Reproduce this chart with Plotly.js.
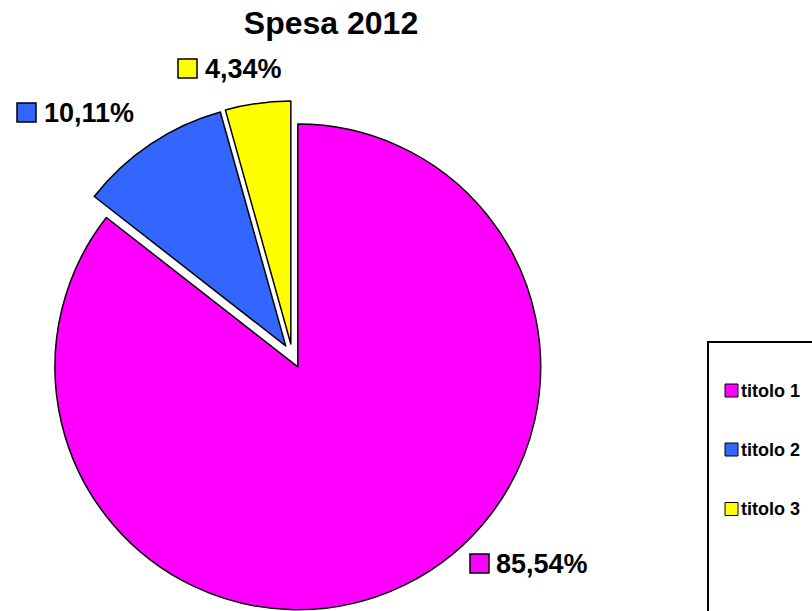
<!DOCTYPE html>
<html>
<head>
<meta charset="utf-8">
<script src="https://cdn.plot.ly/plotly-3.0.1.min.js"></script>
<style>html,body{margin:0;padding:0;background:#fff;}#chart{width:812px;height:611px;}</style>
</head>
<body>
<div id="chart"></div>
<script>
// ---- data ----
const categories = ['titolo 1', 'titolo 2', 'titolo 3'];
const values = [85.54, 10.11, 4.34];
const colors = ['#FF00FF', '#3366FF', '#FFFF00'];
const chartTitle = 'Spesa 2012';

// ---- layout helpers (positions in pixels) ----
const W = 812, H = 611;
const M = {l: 0, r: 0, t: 101, b: 0};
const PW = W - M.l - M.r, PH = H - M.t - M.b;
const px = x => (x - M.l) / PW;
const py = y => (H - M.b - y) / PH;

// data label placement: [square left, square top, text left, text centre y]
const labelPos = [
  [470, 554, 495, 563.5],
  [17, 103, 43, 112.5],
  [178, 59, 204, 69]
];
const labelSquare = 19;
const legendBox = {x0: 708, y0: 342, x1: 840, y1: 640};
const legendRowsY = [390.5, 449.5, 509];
const legendSwatchX = 725, legendSwatch = 13, legendTextX = 740;

const fmt = v => v.toFixed(2).replace('.', ',') + '%';
const FONT = 'Liberation Sans, Arial, sans-serif';

const shapes = [];
const annotations = [];

values.forEach((v, i) => {
  const p = labelPos[i];
  shapes.push({type: 'rect', xref: 'paper', yref: 'paper',
    x0: px(p[0]), x1: px(p[0] + labelSquare), y0: py(p[1] + labelSquare), y1: py(p[1]),
    fillcolor: colors[i], line: {color: '#000', width: 1.5}});
  annotations.push({xref: 'paper', yref: 'paper', x: px(p[2]), y: py(p[3]),
    xanchor: 'left', yanchor: 'middle', showarrow: false, borderpad: 0,
    text: '<b>' + fmt(v) + '</b>', font: {family: FONT, size: 27, color: '#000'}});
});

// legend frame
shapes.push({type: 'rect', xref: 'paper', yref: 'paper',
  x0: px(legendBox.x0), x1: px(legendBox.x1), y0: py(legendBox.y1), y1: py(legendBox.y0),
  fillcolor: 'rgba(0,0,0,0)', line: {color: '#000', width: 2}});
categories.forEach((c, i) => {
  const cy = legendRowsY[i];
  shapes.push({type: 'rect', xref: 'paper', yref: 'paper',
    x0: px(legendSwatchX), x1: px(legendSwatchX + legendSwatch),
    y0: py(cy + legendSwatch / 2), y1: py(cy - legendSwatch / 2),
    fillcolor: colors[i], line: {color: '#000', width: 1}});
  annotations.push({xref: 'paper', yref: 'paper', x: px(legendTextX), y: py(cy),
    xanchor: 'left', yanchor: 'middle', showarrow: false, borderpad: 0,
    text: '<b>' + c + '</b>', font: {family: FONT, size: 18, color: '#000'}});
});

const trace = {
  type: 'pie',
  labels: categories,
  values: values,
  sort: false,
  direction: 'clockwise',
  rotation: 0,
  pull: [0.05, 0.05, 0.05],
  marker: {colors: colors, line: {color: '#000', width: 1.5}},
  textinfo: 'none',
  hoverinfo: 'label+percent',
  showlegend: false,
  domain: {x: [0.02, 0.7004], y: [0, 1]}
};

const layout = {
  width: W, height: H,
  margin: M,
  paper_bgcolor: '#fff',
  plot_bgcolor: '#fff',
  showlegend: false,
  separators: ',.',
  title: {text: '<b>' + chartTitle + '</b>', font: {family: FONT, size: 32, color: '#000'},
    x: 331 / W, xref: 'container', xanchor: 'center',
    y: 1 - 23 / H, yref: 'container', yanchor: 'middle'},
  shapes: shapes,
  annotations: annotations
};

Plotly.newPlot('chart', [trace], layout, {displayModeBar: false, staticPlot: true});
</script>
</body>
</html>
